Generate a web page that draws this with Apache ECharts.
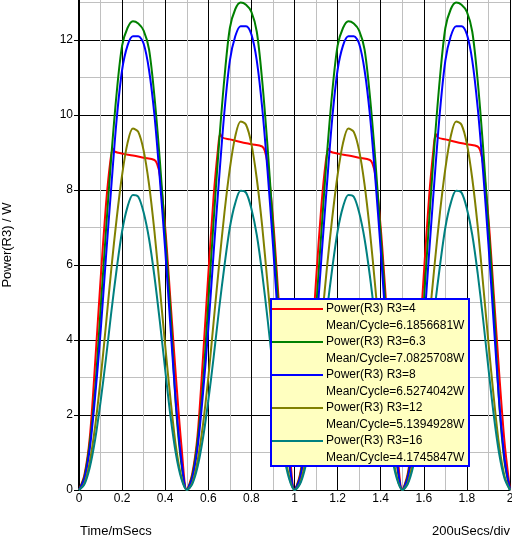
<!DOCTYPE html>
<html><head><meta charset="utf-8">
<script src="https://cdn.jsdelivr.net/npm/echarts@6/dist/echarts.min.js"></script>
<style>html,body{margin:0;padding:0;background:#fff}#c{width:512px;height:538px}</style>
</head><body><div id="c"></div>
<script>
// time samples (ms)
const timeMs = [0,0.025,0.05,0.075,0.1,0.125,0.15,0.175,0.2,0.225,0.25,0.275,0.3,0.325,0.35,0.375,0.4,0.425,0.45,0.475,
0.5,0.525,0.55,0.575,0.6,0.625,0.65,0.675,0.7,0.725,0.75,0.775,0.8,0.825,0.85,0.875,0.9,0.925,0.95,0.975,
1,1.025,1.05,1.075,1.1,1.125,1.15,1.175,1.2,1.225,1.25,1.275,1.3,1.325,1.35,1.375,1.4,1.425,1.45,1.475,
1.5,1.525,1.55,1.575,1.6,1.625,1.65,1.675,1.7,1.725,1.75,1.775,1.8,1.825,1.85,1.875,1.9,1.925,1.95,1.975,2];

const powerR6_3 = [0,0.35,1.25,2.7,4.8,6.9,8.9,10.6,11.85,12.32,12.5,12.44,12.25,11.75,10.5,8.8,6.8,4.7,2.2,0.7,
0,0.36,1.3,2.8,5.0,7.2,9.25,11.0,12.32,12.82,13.0,12.94,12.75,12.22,10.92,9.15,7.07,4.9,2.3,0.73,
0,0.35,1.25,2.7,4.8,6.9,8.9,10.6,11.85,12.32,12.5,12.44,12.25,11.75,10.5,8.8,6.8,4.7,2.2,0.7,
0,0.36,1.3,2.8,5.0,7.2,9.25,11.0,12.32,12.82,13.0,12.94,12.75,12.22,10.92,9.15,7.07,4.9,2.3,0.73,0];

const powerR8 = [0,0.3,1.1,2.5,4.2,6.2,8.1,9.9,11.2,11.85,12.1,12.1,11.9,11.2,10.0,8.3,6.4,4.3,2.3,0.8,
0,0.31,1.12,2.55,4.3,6.35,8.3,10.1,11.45,12.1,12.37,12.37,12.15,11.45,10.2,8.5,6.55,4.4,2.35,0.82,
0,0.3,1.1,2.5,4.2,6.2,8.1,9.9,11.2,11.85,12.1,12.1,11.9,11.2,10.0,8.3,6.4,4.3,2.3,0.8,
0,0.31,1.12,2.55,4.3,6.35,8.3,10.1,11.45,12.1,12.37,12.37,12.15,11.45,10.2,8.5,6.55,4.4,2.35,0.82,0];

const powerR12 = [0,0.18,0.75,1.7,2.95,4.4,5.9,7.25,8.4,9.25,9.64,9.55,9.05,8.15,6.9,5.4,3.85,2.4,1.15,0.35,
0,0.18,0.77,1.73,3.0,4.5,6.0,7.4,8.57,9.43,9.83,9.74,9.23,8.3,7.04,5.5,3.93,2.45,1.17,0.36,
0,0.18,0.75,1.7,2.95,4.4,5.9,7.25,8.4,9.25,9.64,9.55,9.05,8.15,6.9,5.4,3.85,2.4,1.15,0.35,
0,0.18,0.77,1.73,3.0,4.5,6.0,7.4,8.57,9.43,9.83,9.74,9.23,8.3,7.04,5.5,3.93,2.45,1.17,0.36,0];

const powerR16 = [0,0.15,0.6,1.35,2.35,3.5,4.75,5.9,6.9,7.55,7.87,7.82,7.4,6.7,5.7,4.5,3.2,1.95,0.95,0.3,
0,0.15,0.61,1.37,2.38,3.55,4.82,5.98,7.0,7.65,7.98,7.93,7.5,6.8,5.78,4.56,3.24,1.98,0.96,0.3,
0,0.15,0.6,1.35,2.35,3.5,4.75,5.9,6.9,7.55,7.87,7.82,7.4,6.7,5.7,4.5,3.2,1.95,0.95,0.3,
0,0.15,0.61,1.37,2.38,3.55,4.82,5.98,7.0,7.65,7.98,7.93,7.5,6.8,5.78,4.56,3.24,1.98,0.96,0.3,0];

// R3=4 (clipped) has its own, denser time samples around the corners
const redTimeMs = [0,0.025,0.05,0.075,0.1,0.125,0.145,0.157,0.167,0.2,0.25,0.3,0.35,0.362,0.375,0.4,0.425,0.45,0.475,
0.5,0.525,0.55,0.575,0.6,0.625,0.645,0.655,0.665,0.7,0.75,0.8,0.85,0.862,0.875,0.9,0.925,0.95,0.975,
1,1.025,1.05,1.075,1.1,1.125,1.145,1.157,1.167,1.2,1.25,1.3,1.35,1.362,1.375,1.4,1.425,1.45,1.475,
1.5,1.525,1.55,1.575,1.6,1.625,1.645,1.655,1.665,1.7,1.75,1.8,1.85,1.862,1.875,1.9,1.925,1.95,1.975,2];
const powerR4 = [0,0.4,1.4,3.4,5.6,7.6,8.75,9.1,9.02,8.97,8.92,8.86,8.8,8.7,8.4,7.0,5.0,3.0,1.2,
0,0.42,1.45,3.5,5.75,7.85,9.1,9.5,9.4,9.35,9.28,9.22,9.16,9.05,8.7,7.25,5.2,3.1,1.25,
0,0.4,1.4,3.4,5.6,7.6,8.75,9.1,9.02,8.97,8.92,8.86,8.8,8.7,8.4,7.0,5.0,3.0,1.2,
0,0.42,1.45,3.5,5.75,7.85,9.1,9.5,9.4,9.35,9.28,9.22,9.16,9.05,8.7,7.25,5.2,3.1,1.25,0];

const seriesNames = ['Power(R3) R3=4','Power(R3) R3=6.3','Power(R3) R3=8','Power(R3) R3=12','Power(R3) R3=16'];
const meanLabels = ['Mean/Cycle=6.1856681W','Mean/Cycle=7.0825708W','Mean/Cycle=6.5274042W','Mean/Cycle=5.1394928W','Mean/Cycle=4.1745847W'];
const seriesColors = ['#ff0000','#008000','#0000ff','#808000','#008080'];
const xTickLabels = ['0','0.2','0.4','0.6','0.8','1','1.2','1.4','1.6','1.8','2'];
const yTickLabels = ['0','2','4','6','8','10','12','14'];

const FONT = 'Arial, "Liberation Sans", sans-serif';
const pair = (ts, vs) => ts.map((t, i) => [t, vs[i]]);
const seriesData = [
  pair(redTimeMs, powerR4), pair(timeMs, powerR6_3), pair(timeMs, powerR8),
  pair(timeMs, powerR12), pair(timeMs, powerR16)
];

const chart = echarts.init(document.getElementById('c'), null, {renderer: 'canvas'});

const legendX = 271, legendY = 299, legendW = 198, legendH = 167, rowH = 16.5;
const legendEls = [{
  type: 'rect', z: 100, shape: {x: legendX, y: legendY, width: legendW, height: legendH},
  style: {fill: '#ffffc0', stroke: '#0000ff', lineWidth: 2}
}];
seriesNames.forEach((n, i) => {
  const y1 = legendY + 10 + rowH * 2 * i;
  legendEls.push({type: 'line', z: 101, shape: {x1: legendX + 1, y1: y1, x2: legendX + 52, y2: y1},
    style: {stroke: seriesColors[i], lineWidth: 2}});
  legendEls.push({type: 'text', z: 101, x: legendX + 55, y: y1,
    style: {text: n, font: '12px ' + FONT, fill: '#000', verticalAlign: 'middle'}});
  legendEls.push({type: 'text', z: 101, x: legendX + 55, y: y1 + rowH,
    style: {text: meanLabels[i], font: '12px ' + FONT, fill: '#000', verticalAlign: 'middle'}});
});

chart.setOption({
  animation: false,
  backgroundColor: '#ffffff',
  // y: 0 -> 490px, 12 -> 40px ; axis max 14 lies above the canvas
  grid: {left: 79, right: 2, top: -35, bottom: 48, containLabel: false, outerBoundsMode: 'none'},
  xAxis: {
    type: 'value', min: 0, max: 2, interval: 0.2,
    axisLine: {show: true, onZero: false, lineStyle: {color: '#000', width: 1}},
    axisTick: {show: false},
    minorTick: {show: false, splitNumber: 2},
    axisLabel: {
      color: '#000', fontSize: 12, fontFamily: FONT, margin: 3,
      formatter: v => xTickLabels[Math.round(v * 5)]
    },
    splitLine: {show: true, lineStyle: {color: '#000000', width: 1}},
    minorSplitLine: {show: true, lineStyle: {color: '#c0c0c0', width: 1}}
  },
  yAxis: {
    type: 'value', min: 0, max: 14, interval: 2,
    axisLine: {show: true, lineStyle: {color: '#000', width: 2}},
    axisTick: {show: true, length: 5, lineStyle: {color: '#000'}},
    minorTick: {show: false, splitNumber: 2},
    axisLabel: {
      color: '#000', fontSize: 12, fontFamily: FONT, margin: 6,
      formatter: v => yTickLabels[Math.round(v / 2)]
    },
    splitLine: {show: true, lineStyle: {color: '#000000', width: 1}},
    minorSplitLine: {show: true, lineStyle: {color: '#c0c0c0', width: 1}}
  },
  series: seriesNames.map((n, i) => ({
    type: 'line', name: n, data: seriesData[i], showSymbol: false, smooth: 0.3,
    lineStyle: {color: seriesColors[i], width: 2}, itemStyle: {color: seriesColors[i]}, z: 3 + i
  })),
  graphic: legendEls.concat([
    {type: 'text', z: 100, x: 7, y: 245, rotation: Math.PI / 2,
      style: {text: 'Power(R3) / W', font: '13px ' + FONT, fill: '#000', align: 'center', verticalAlign: 'middle'}},
    {type: 'text', z: 100, x: 80, y: 531, style: {text: 'Time/mSecs', font: '13px ' + FONT, fill: '#000', verticalAlign: 'middle'}},
    {type: 'text', z: 100, x: 510, y: 531, style: {text: '200uSecs/div', font: '13px ' + FONT, fill: '#000', align: 'right', verticalAlign: 'middle'}}
  ])
});
</script>
</body></html>
